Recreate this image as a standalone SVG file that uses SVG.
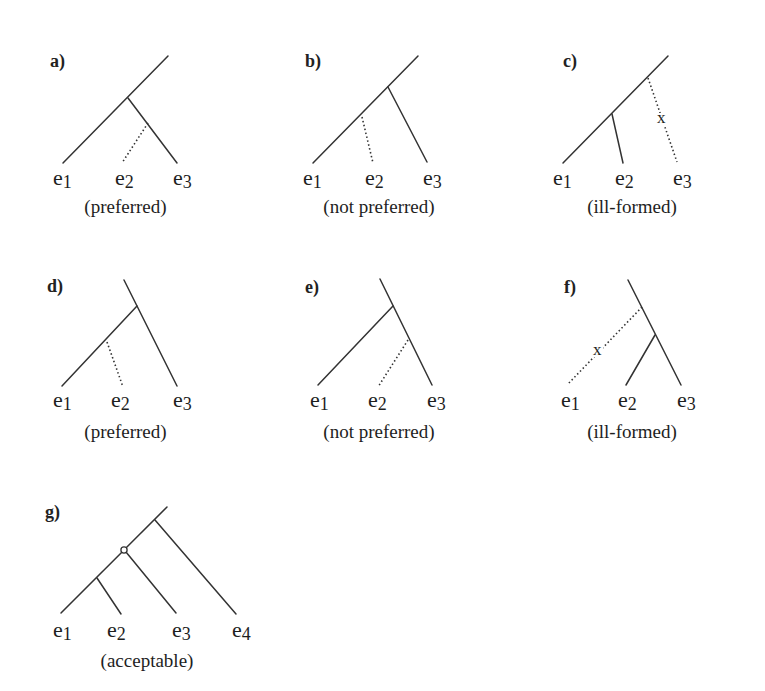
<svg xmlns="http://www.w3.org/2000/svg" width="765" height="691" viewBox="0 0 765 691">
<style>
  .ln { stroke: #333333; stroke-width: 1.5; fill: none; stroke-linecap: round; }
  .dt { stroke: #333333; stroke-width: 1.6; fill: none; stroke-dasharray: 1.5 2.5; }
  .lab { font-family: "Liberation Serif", "Times New Roman", serif; font-size: 18px; font-weight: bold; fill: #222; }
  .e { font-family: "Liberation Serif", "Times New Roman", serif; font-size: 22px; fill: #1e1e1e; }
  .sub { font-size: 18px; }
  .cap { font-family: "Liberation Serif", "Times New Roman", serif; font-size: 19px; fill: #1e1e1e; }
  .x { font-family: "Liberation Serif", "Times New Roman", serif; font-size: 17px; fill: #222; }
  .xb { fill: #ffffff; }
</style>
<rect width="765" height="691" fill="#ffffff"/>

<!-- a) -->
<g id="tree-a">
  <text class="lab" x="50" y="67">a)</text>
  <line class="ln" x1="168" y1="56" x2="63" y2="163"/>
  <line class="ln" x1="128" y1="98" x2="177" y2="163"/>
  <line class="dt" x1="148" y1="123" x2="122" y2="163"/>
  <text class="e" x="53" y="185">e<tspan class="sub" dy="3">1</tspan></text>
  <text class="e" x="115" y="185">e<tspan class="sub" dy="3">2</tspan></text>
  <text class="e" x="173" y="185">e<tspan class="sub" dy="3">3</tspan></text>
  <text class="cap" x="125.5" y="213" text-anchor="middle">(preferred)</text>
</g>

<!-- b) -->
<g id="tree-b">
  <text class="lab" x="305" y="67">b)</text>
  <line class="ln" x1="418" y1="56" x2="313" y2="163"/>
  <line class="ln" x1="388" y1="87" x2="427" y2="162"/>
  <line class="dt" x1="362" y1="117" x2="373" y2="163"/>
  <text class="e" x="303" y="185">e<tspan class="sub" dy="3">1</tspan></text>
  <text class="e" x="365" y="185">e<tspan class="sub" dy="3">2</tspan></text>
  <text class="e" x="423" y="185">e<tspan class="sub" dy="3">3</tspan></text>
  <text class="cap" x="379" y="213" text-anchor="middle">(not preferred)</text>
</g>

<!-- c) -->
<g id="tree-c">
  <text class="lab" x="563" y="67">c)</text>
  <line class="ln" x1="668" y1="56" x2="563" y2="163"/>
  <line class="ln" x1="612" y1="114" x2="623" y2="163"/>
  <line class="dt" x1="648" y1="78" x2="677" y2="162"/>
  <rect class="xb" x="656" y="113" width="11" height="12"/>
  <text class="x" x="657" y="123">x</text>
  <text class="e" x="553" y="185">e<tspan class="sub" dy="3">1</tspan></text>
  <text class="e" x="615" y="185">e<tspan class="sub" dy="3">2</tspan></text>
  <text class="e" x="673" y="185">e<tspan class="sub" dy="3">3</tspan></text>
  <text class="cap" x="632" y="213" text-anchor="middle">(ill-formed)</text>
</g>

<!-- d) -->
<g id="tree-d">
  <text class="lab" x="47" y="292">d)</text>
  <line class="ln" x1="124" y1="280" x2="177" y2="386"/>
  <line class="ln" x1="137" y1="306" x2="62" y2="386"/>
  <line class="dt" x1="107" y1="342" x2="123" y2="387"/>
  <text class="e" x="53" y="407">e<tspan class="sub" dy="3">1</tspan></text>
  <text class="e" x="111" y="407">e<tspan class="sub" dy="3">2</tspan></text>
  <text class="e" x="173" y="407">e<tspan class="sub" dy="3">3</tspan></text>
  <text class="cap" x="125.5" y="438" text-anchor="middle">(preferred)</text>
</g>

<!-- e) -->
<g id="tree-e">
  <text class="lab" x="305" y="293">e)</text>
  <line class="ln" x1="380" y1="279" x2="432" y2="385"/>
  <line class="ln" x1="393" y1="306" x2="318" y2="385"/>
  <line class="dt" x1="408" y1="340" x2="378" y2="387"/>
  <text class="e" x="310" y="407">e<tspan class="sub" dy="3">1</tspan></text>
  <text class="e" x="368" y="407">e<tspan class="sub" dy="3">2</tspan></text>
  <text class="e" x="427" y="407">e<tspan class="sub" dy="3">3</tspan></text>
  <text class="cap" x="379" y="438" text-anchor="middle">(not preferred)</text>
</g>

<!-- f) -->
<g id="tree-f">
  <text class="lab" x="564" y="293">f)</text>
  <line class="ln" x1="628" y1="280" x2="681" y2="385"/>
  <line class="ln" x1="655" y1="335" x2="626" y2="385"/>
  <line class="dt" x1="642" y1="307" x2="568" y2="384"/>
  <rect class="xb" x="592" y="345" width="11" height="12"/>
  <text class="x" x="593" y="355">x</text>
  <text class="e" x="561" y="407">e<tspan class="sub" dy="3">1</tspan></text>
  <text class="e" x="618" y="407">e<tspan class="sub" dy="3">2</tspan></text>
  <text class="e" x="677" y="407">e<tspan class="sub" dy="3">3</tspan></text>
  <text class="cap" x="632" y="438" text-anchor="middle">(ill-formed)</text>
</g>

<!-- g) -->
<g id="tree-g">
  <text class="lab" x="45" y="518">g)</text>
  <line class="ln" x1="167" y1="507" x2="126.2" y2="547.8"/>
  <line class="ln" x1="121.8" y1="552.2" x2="61" y2="613"/>
  <line class="ln" x1="155" y1="520" x2="236" y2="614"/>
  <line class="ln" x1="126.2" y1="552.2" x2="176" y2="613"/>
  <line class="ln" x1="97" y1="578" x2="121" y2="614"/>
  <circle cx="124" cy="550" r="3.1" fill="#ffffff" stroke="#333333" stroke-width="1.3"/>
  <text class="e" x="53" y="637">e<tspan class="sub" dy="3">1</tspan></text>
  <text class="e" x="107" y="637">e<tspan class="sub" dy="3">2</tspan></text>
  <text class="e" x="172" y="637">e<tspan class="sub" dy="3">3</tspan></text>
  <text class="e" x="232" y="637">e<tspan class="sub" dy="3">4</tspan></text>
  <text class="cap" x="147" y="667" text-anchor="middle">(acceptable)</text>
</g>
</svg>
